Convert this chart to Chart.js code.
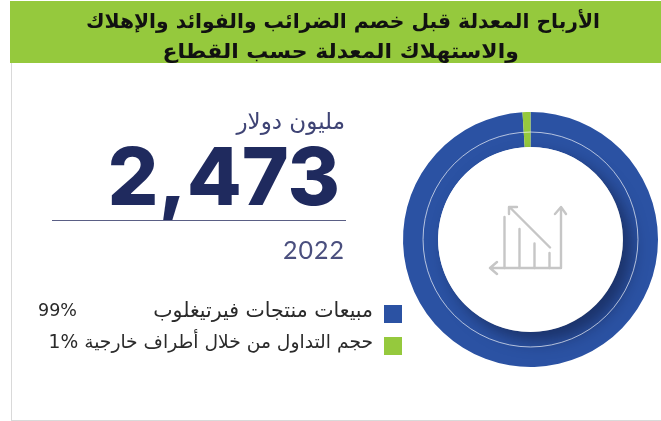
<!DOCTYPE html>
<html lang="ar">
<head>
<meta charset="utf-8">
<script src="https://cdn.jsdelivr.net/npm/chart.js@4"></script>
<style>
  html, body { margin: 0; padding: 0; background: #fff; }
  #page { position: relative; width: 661px; height: 421px; overflow: hidden; font-family: "DejaVu Sans", sans-serif; }
  #page div { position: absolute; white-space: nowrap; }
  #myChart { position: absolute; left: 0; top: 0; }
  #icon { position: absolute; left: 0; top: 0; }
  .rtl { direction: rtl; text-align: right; transform-origin: right center; }
  .legendText { color: #2a2a2a; line-height: 24px; }
</style>
</head>
<body>
<div id="page">
  <div style="left:11px;top:62px;width:650px;height:358px;border-left:1px solid #d9d9d9;border-bottom:1px solid #d9d9d9"></div>
  <div style="left:10px;top:1px;width:651px;height:62px;background:#95c93d"></div>
  <canvas id="myChart" width="661" height="421"></canvas>
  <svg id="icon" width="661" height="421" fill="none" stroke="#c6c6c6" stroke-width="2.4" stroke-linecap="round" stroke-linejoin="round">
    <path d="M490 268H561V208M555 214L561 207L566 214M497 262L490 268L497 274"/>
    <path d="M504.5 268V217M519.5 268V229M534.5 268V243.5M549.5 268V253"/>
    <path d="M550 247.5L510 207.5M509 214V207H517"/>
  </svg>
  <div id="title1" class="rtl" style="right:61px;top:6px;font-size:20.3px;font-weight:bold;line-height:30px;color:#111"></div>
  <div id="title2" class="rtl" style="right:142px;top:36px;font-size:20.3px;font-weight:bold;line-height:30px;color:#111;transform:scaleX(1.08)"></div>
  <div id="unit" class="rtl" style="right:316px;top:106px;font-size:23px;line-height:30px;color:#3f4475"></div>
  <div id="bigNum" style="right:321px;top:130px;font-family:Inter,sans-serif;font-weight:800;font-size:80px;line-height:92px;color:#1f2a5e"></div>
  <div style="left:52px;top:220px;width:294px;height:1px;background:#5a5f85"></div>
  <div id="year" style="right:316px;top:233px;font-family:Lato,sans-serif;font-size:25px;letter-spacing:1px;line-height:32px;color:#4a4f7e"></div>
  <div id="swatch0" style="left:384px;top:305px;width:18px;height:18px"></div>
  <div id="swatch1" style="left:384px;top:337px;width:18px;height:18px"></div>
  <div id="leg0" class="rtl legendText" style="right:288px;top:298px;font-size:20.5px"></div>
  <div id="pct0" class="legendText" style="left:38px;top:298px;font-size:17.5px"></div>
  <div id="leg1" class="rtl legendText" style="right:288px;top:330px;font-size:18.7px"></div>
</div>
<script>
document.addEventListener("DOMContentLoaded", function () {
    const titleLines = ["الأرباح المعدلة قبل خصم الضرائب والفوائد والإهلاك", "والاستهلاك المعدلة حسب القطاع"];
    const unitLabel = "مليون دولار";
    const totalLabel = "2,473";
    const yearLabel = "2022";
    const categories = ["مبيعات منتجات فيرتيغلوب", "حجم التداول من خلال أطراف خارجية"];
    const values = [99, 1];
    const colors = ["#2b52a3", "#95c93d"];

    document.getElementById("title1").textContent = titleLines[0];
    document.getElementById("title2").textContent = titleLines[1];
    document.getElementById("unit").textContent = unitLabel;
    document.getElementById("bigNum").textContent = totalLabel;
    document.getElementById("year").textContent = yearLabel;
    document.getElementById("leg0").textContent = categories[0];
    document.getElementById("pct0").textContent = values[0] + "%";
    // LRM keeps "1%" in that order after the Arabic text
    document.getElementById("leg1").textContent = categories[1] + " \u200E" + values[1] + "%";
    document.getElementById("swatch0").style.background = colors[0];
    document.getElementById("swatch1").style.background = colors[1];

    // shadow under the hole and the thin white ring
    const ringPlugin = {
        id: "ring",
        afterDatasetsDraw(chart) {
            const arc = chart.getDatasetMeta(0).data[0];
            const c = chart.ctx;
            c.save();
            c.beginPath();
            c.arc(arc.x, arc.y, arc.outerRadius, 0, Math.PI * 2);
            c.clip();
            c.shadowColor = "rgba(12,20,50,0.5)";
            c.shadowBlur = 16;
            c.shadowOffsetX = 9;
            c.shadowOffsetY = 9;
            c.fillStyle = "#fff";
            c.beginPath();
            c.arc(arc.x, arc.y, arc.innerRadius, 0, Math.PI * 2);
            c.fill();
            c.restore();
            c.save();
            c.strokeStyle = "rgba(255,255,255,0.65)";
            c.lineWidth = 1;
            c.beginPath();
            c.arc(arc.x, arc.y, (arc.innerRadius + arc.outerRadius) / 2 - 2.5, 0, Math.PI * 2);
            c.stroke();
            c.restore();
        }
    };

    const ctx = document.getElementById("myChart");
    new Chart(ctx, {
        type: "doughnut",
        data: {
            labels: categories,
            datasets: [{
                data: values,
                backgroundColor: colors,
                borderWidth: 0
            }]
        },
        options: {
            responsive: false,
            animation: false,
            cutout: "72.5%",
            layout: { padding: { left: 403, right: 3, top: 112, bottom: 54 } },
            plugins: {
                legend: { display: false },
                tooltip: { enabled: false }
            }
        },
        plugins: [ringPlugin]
    });
});
</script>
</body>
</html>
